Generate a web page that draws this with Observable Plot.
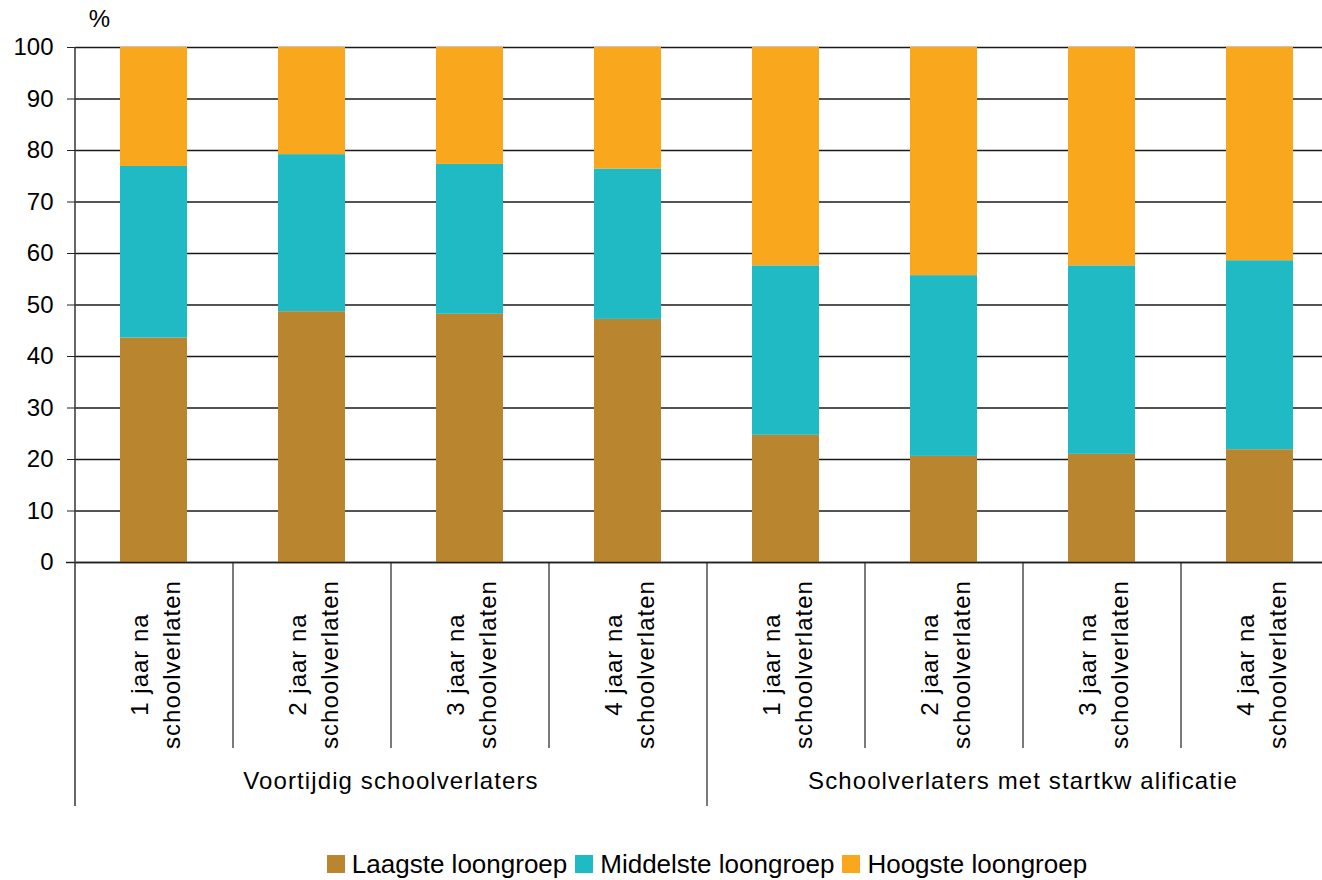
<!DOCTYPE html>
<html>
<head>
<meta charset="utf-8">
<script src="https://cdn.jsdelivr.net/npm/d3@7"></script>
<script src="https://cdn.jsdelivr.net/npm/@observablehq/plot@0.6"></script>
<style>
  html, body { margin: 0; padding: 0; background: #fff; }
  body { width: 1322px; height: 880px; overflow: hidden; font-family: "Liberation Sans", Arial, sans-serif; }
  #legend { margin-left: 75px; width: 1264px; display: flex; justify-content: center; align-items: center; font-size: 26px; color: #000; height: 40px; margin-top: 6px; }
  #legend .item { display: flex; align-items: center; margin: 0 4px; }
  #legend .sw { width: 18px; height: 18px; margin-right: 7px; }
</style>
</head>
<body>
<div id="chart"></div>
<div id="legend"></div>
<script>
// ---- data ----
const groups = ["Voortijdig schoolverlaters", "Schoolverlaters met startkw alificatie"];
const periods = ["1 jaar na\nschoolverlaten", "2 jaar na\nschoolverlaten", "3 jaar na\nschoolverlaten", "4 jaar na\nschoolverlaten"];
const seriesNames = ["Laagste loongroep", "Middelste loongroep", "Hoogste loongroep"];
const seriesColors = ["#BA852F", "#1FBAC4", "#F9A81E"];
// values per bar: group 1 periods 1-4, then group 2 periods 1-4
const laagste   = [43.6, 48.7, 48.2, 47.2, 24.7, 20.6, 21.0, 21.9];
const middelste = [33.3, 30.5, 29.1, 29.2, 32.9, 35.1, 36.6, 36.7];
const hoogste   = [23.1, 20.8, 22.7, 23.6, 42.4, 44.3, 42.4, 41.4];
const yTicks = [0, 10, 20, 30, 40, 50, 60, 70, 80, 90, 100];

// ---- build tables ----
const cats = [];
groups.forEach((g, gi) => periods.forEach((p, pi) => cats.push({key: `${gi}-${pi}`, group: g, label: p, gi, pi})));
const keys = cats.map(d => d.key);
const seriesValues = [laagste, middelste, hoogste];
const rows = [];
seriesNames.forEach((s, si) => cats.forEach((c, ci) => rows.push({key: c.key, series: s, value: seriesValues[si][ci]})));

const W = 1322, H = 838;
const xOpts = {type: "band", domain: keys, range: [75, 1339], paddingInner: 0.575, paddingOuter: 0.2875};
const step = Plot.scale({x: xOpts}).step;

const groupStarts = cats.filter(d => d.pi === 0);
const innerStarts = cats.filter(d => d.pi !== 0);
const groupMids = cats.filter(d => d.pi === 1); // boundary after this is the group's center

const plot = Plot.plot({
  width: W,
  height: H,
  marginTop: 47,
  marginBottom: H - 562,
  marginLeft: 75,
  marginRight: 0,
  style: {fontFamily: "'Liberation Sans', Arial, sans-serif", fontSize: "24px", color: "#000", background: "#fff"},
  x: {...xOpts, axis: null},
  y: {domain: [0, 100], axis: null},
  color: {domain: seriesNames, range: seriesColors},
  marks: [
    Plot.gridY(yTicks, {stroke: "#1a1a1a", strokeOpacity: 1, strokeWidth: 1.3}),
    Plot.barY(rows, {x: "key", y: "value", fill: "series", order: seriesNames}),
    Plot.ruleY([0], {stroke: "#222", strokeWidth: 1.6, insetLeft: -9}),
    // left axis line, extended down through the category area
    Plot.ruleX(groupStarts.slice(0, 1), {x: "key", dx: -step / 2, y1: 100, y2: 0, insetBottom: -244, stroke: "#404040", strokeWidth: 1.6}),
    // separator between groups
    Plot.ruleX(groupStarts.slice(1), {x: "key", dx: -step / 2, y1: 0, y2: 0, insetBottom: -244, stroke: "#222", strokeWidth: 1.2}),
    // separators between categories
    Plot.ruleX(innerStarts, {x: "key", dx: -step / 2, y1: 0, y2: 0, insetBottom: -186, stroke: "#222", strokeWidth: 1.2}),
    Plot.axisY(yTicks, {tickSize: 8, tickPadding: 14, fontSize: 24, label: null, stroke: "#222"}),
    Plot.text(cats, {x: "key", text: "label", rotate: -90, frameAnchor: "bottom", dy: 102, textAnchor: "middle", lineAnchor: "middle", lineHeight: 1.3, fontSize: 24}),
    Plot.text(groupMids, {x: "key", text: "group", frameAnchor: "bottom", dx: step / 2, dy: 226, textAnchor: "middle", fontSize: 24}),
    Plot.text(["%"], {frameAnchor: "top-left", dx: 24, dy: -28, text: d => d, textAnchor: "middle", lineAnchor: "middle", fontSize: 24})
  ]
});
document.getElementById("chart").appendChild(plot);

// slightly wider letter spacing on the category texts, as in the reference
const textGroups = d3.select(plot).selectAll("g[aria-label='text']").nodes();
if (textGroups[0]) d3.select(textGroups[0]).style("letter-spacing", "1px");
if (textGroups[1]) d3.select(textGroups[1]).style("letter-spacing", "1.1px");

// legend
const leg = d3.select("#legend");
seriesNames.forEach((s, i) => {
  const it = leg.append("div").attr("class", "item");
  it.append("div").attr("class", "sw").style("background", seriesColors[i]);
  it.append("span").text(s);
});
</script>
</body>
</html>
